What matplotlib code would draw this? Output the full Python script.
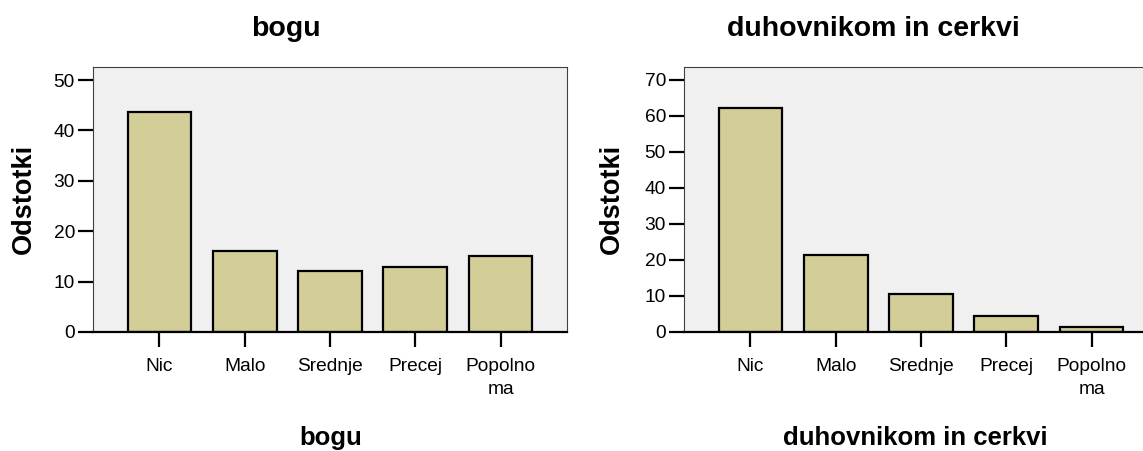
import matplotlib
matplotlib.use('Agg')
import matplotlib.pyplot as plt

plt.rcParams['font.family'] = ['Liberation Sans', 'DejaVu Sans']

categories = ['Nic', 'Malo', 'Srednje', 'Precej', 'Popolno\nma']
bogu_pct = [43.7, 16.1, 12.1, 13.0, 15.1]
cerkev_pct = [62.1, 21.5, 10.6, 4.4, 1.4]
titles = ['bogu', 'duhovnikom in cerkvi']
ylabel = 'Odstotki'

bar_color = '#d3ce98'
bg_color = '#f0f0f0'

W, H = 1143, 451
fig = plt.figure(figsize=(W / 100, H / 100), dpi=100)


def px(x, y):
    return x / W, 1 - y / H


panels = [
    # values, ymax, yticks, axes left, title x, label x, ylabel x
    (bogu_pct, 52.6, range(0, 51, 10), 93, 286, 331, 24),
    (cerkev_pct, 73.6, range(0, 71, 10), 684, 873, 915, 612),
]

for (vals, ymax, yt, left, tx, lx, yx), title in zip(panels, titles):
    ax = fig.add_axes([left / W, 1 - 332 / H, 474 / W, 265 / H])
    ax.set_facecolor(bg_color)
    ax.bar(range(len(categories)), vals, width=0.75, color=bar_color,
           edgecolor='black', linewidth=1.6, zorder=3)
    ax.set_xlim(-0.78, 4.78)
    ax.set_ylim(0, ymax)
    ax.set_yticks(list(yt))
    ax.set_xticks(range(len(categories)))
    ax.set_xticklabels(categories, fontsize=13.8, linespacing=1.45)
    ax.tick_params(axis='y', labelsize=13.8, length=11, width=1.6,
                   direction='out', pad=2)
    ax.tick_params(axis='x', length=11, width=1.6, direction='out', pad=8)
    for s in ['top', 'right', 'left']:
        ax.spines[s].set_color('#404040')
        ax.spines[s].set_linewidth(0.8)
    ax.spines['bottom'].set_color('black')
    ax.spines['bottom'].set_linewidth(1.6)
    ax.spines['bottom'].set_zorder(4)

    x, y = px(tx, 36)
    fig.text(x, y, title, ha='center', va='baseline', fontsize=20.5,
             fontweight='bold')
    x, y = px(lx, 445)
    fig.text(x, y, title, ha='center', va='baseline', fontsize=18.5,
             fontweight='bold')
    x, y = px(yx, 199)
    fig.text(x, y, ylabel, ha='center', va='center', rotation=90,
             fontsize=19.5, fontweight='bold')

fig.savefig('out.png', dpi=100)
